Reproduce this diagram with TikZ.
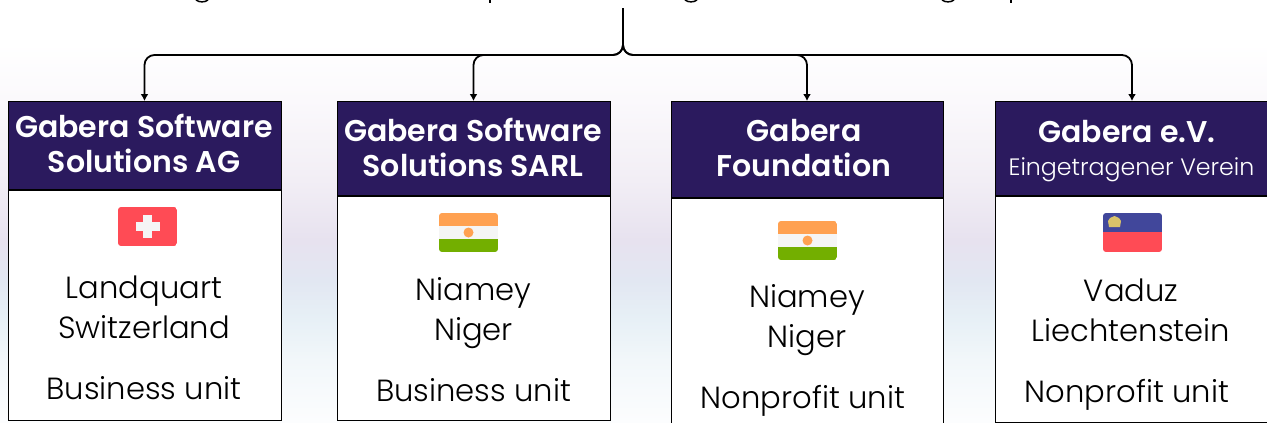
\documentclass[tikz,border=0pt]{standalone}
\usepackage{fontspec}
\setmainfont{Poppins Light}[BoldFont={Poppins SemiBold}]
\usepackage{tikz}
\usetikzlibrary{arrows.meta,positioning}

\definecolor{headviolet}{HTML}{2B1A5E}
\definecolor{flagred}{HTML}{FF4B55}
\definecolor{flagwhite}{HTML}{F5F5F5}
\definecolor{flagorange}{HTML}{FFA151}
\definecolor{flaggreen}{HTML}{73AF00}
\definecolor{flagblue}{HTML}{41479B}
\definecolor{flagcrown}{HTML}{D9C36A}
\definecolor{washA}{HTML}{FCFDFE}
\definecolor{washB}{HTML}{F2F7FA}
\definecolor{washC}{HTML}{E7F0F6}
\definecolor{washD}{HTML}{E2E7F2}
\definecolor{washE}{HTML}{E7E2EF}
\definecolor{washF}{HTML}{F2EEF5}
\definecolor{washG}{HTML}{FBF9FC}
\pgfdeclareverticalshading{bgwash}{100bp}{
  color(0bp)=(washA);
  color(25bp)=(washA);
  color(32.4bp)=(washB);
  color(37.2bp)=(washC);
  color(41.9bp)=(washD);
  color(46.6bp)=(washE);
  color(53.7bp)=(washF);
  color(63.2bp)=(washG);
  color(70bp)=(white);
  color(100bp)=(white)}

\begin{document}
\begin{tikzpicture}[x=1pt, y=-1pt,
    headbox/.style={draw=black, fill=headviolet, line width=1pt, inner sep=0pt},
    headtext/.style={text=white, inner sep=0pt, align=center, font=\bfseries\fontsize{30}{35}\selectfont},
    subtext/.style={text=white, inner sep=0pt, anchor=base, font=\fontsize{23.7}{28}\selectfont},
    bodybox/.style={draw=black, fill=white, line width=1pt, inner sep=0pt},
    place/.style={anchor=base, align=center, inner sep=0pt, font=\fontsize{30.6}{40}\selectfont},
    link/.style={line width=1.8pt, rounded corners=10pt, -{Latex[length=7pt,width=8pt]}}]
    \useasboundingbox (0,0) rectangle (1267,423);
    % Background
    \shade[shading=bgwash] (0,0) rectangle (1267,423);
    % Cut off title line
    \foreach \gx in {202, 691, 948} {
        \draw[line width=1.5pt] (\gx-6,0) .. controls (\gx-3,2.5) and (\gx+3,2.5) .. (\gx+6,0);
    }
    \foreach \px in {490, 1011} {
        \draw[line width=1.5pt] (\px,0) -- (\px,3);
    }
    % Gabera Software Solutions AG
    \node[headbox, minimum width=273pt, minimum height=88pt] (headAG) at (144.5,145.5) {};
    \node[bodybox, minimum width=273pt, minimum height=230pt, below=0pt of headAG] (bodyAG) {};
    \node[headtext] (titleAG) at (144,143) {Gabera Software\\Solutions AG};
    \node[place] (cityAG) at (144,338) {Landquart\\Switzerland};
    \node[place] (unitAG) at (144,399) {Business unit};
    % Gabera Software Solutions SARL
    \node[headbox, minimum width=273pt, minimum height=94pt] (headSARL) at (473.5,148.5) {};
    \node[bodybox, minimum width=273pt, minimum height=224pt, below=0pt of headSARL] (bodySARL) {};
    \node[headtext] (titleSARL) at (473,147) {Gabera Software\\Solutions SARL};
    \node[place] (citySARL) at (473.5,340) {Niamey\\Niger};
    \node[place] (unitSARL) at (473.5,401) {Business unit};
    % Gabera Foundation
    \node[headbox, minimum width=272pt, minimum height=96pt] (headFound) at (807,149.5) {};
    \node[bodybox, minimum width=272pt, minimum height=240pt, below=0pt of headFound] (bodyFound) {};
    \node[headtext] (titleFound) at (804,148) {Gabera\\Foundation};
    \node[place] (cityFound) at (807,347) {Niamey\\Niger};
    \node[place] (unitFound) at (803,408) {Nonprofit unit};
    % Gabera e.V.
    \node[headbox, minimum width=274pt, minimum height=94pt] (headEV) at (1132,148.5) {};
    \node[bodybox, minimum width=274pt, minimum height=226pt, below=0pt of headEV] (bodyEV) {};
    \node[headtext, anchor=base] (titleEV) at (1127,142) {Gabera e.V.};
    \node[subtext] (subEV) at (1131.5,175) {Eingetragener Verein};
    \node[place] (cityEV) at (1131,341) {Vaduz\\Liechtenstein};
    \node[place] (unitEV) at (1127,402) {Nonprofit unit};
    % Switzerland flag
    \begin{scope}
        \clip[rounded corners=3pt] (118,207) rectangle (177,246);
        \fill[flagred] (118,207) rectangle (177,246);
        \fill[flagwhite] (143,215) rectangle (152,238);
        \fill[flagwhite] (136,222) rectangle (160,231);
    \end{scope}
    % Niger flags
    \foreach \fx/\fy in {439/213, 778/221} {
        \begin{scope}
            \clip[rounded corners=3pt] (\fx,\fy) rectangle (\fx+59,\fy+39);
            \fill[flagorange] (\fx,\fy) rectangle (\fx+59,\fy+13);
            \fill[flagwhite] (\fx,\fy+13) rectangle (\fx+59,\fy+26);
            \fill[flaggreen] (\fx,\fy+26) rectangle (\fx+59,\fy+39);
            \fill[flagorange] (\fx+29.5,\fy+19.5) circle (5);
        \end{scope}
    }
    % Liechtenstein flag
    \begin{scope}
        \clip[rounded corners=3pt] (1103,213) rectangle (1162,252);
        \fill[flagblue] (1103,213) rectangle (1162,232);
        \fill[flagred] (1103,232) rectangle (1162,252);
        \fill[flagcrown] (1108,221) -- (1110,218) -- (1114.5,216) -- (1119,218) -- (1121,221) -- (1120,227) -- (1109,227) -- cycle;
    \end{scope}
    % Connectors
    \coordinate (trunk) at (623,8);
    \coordinate (bus) at (623,55);
    \foreach \target in {headAG, headSARL, headFound, headEV} {
        \draw[link] (trunk) -- (bus) -| (\target.north);
    }
\end{tikzpicture}
\end{document}
